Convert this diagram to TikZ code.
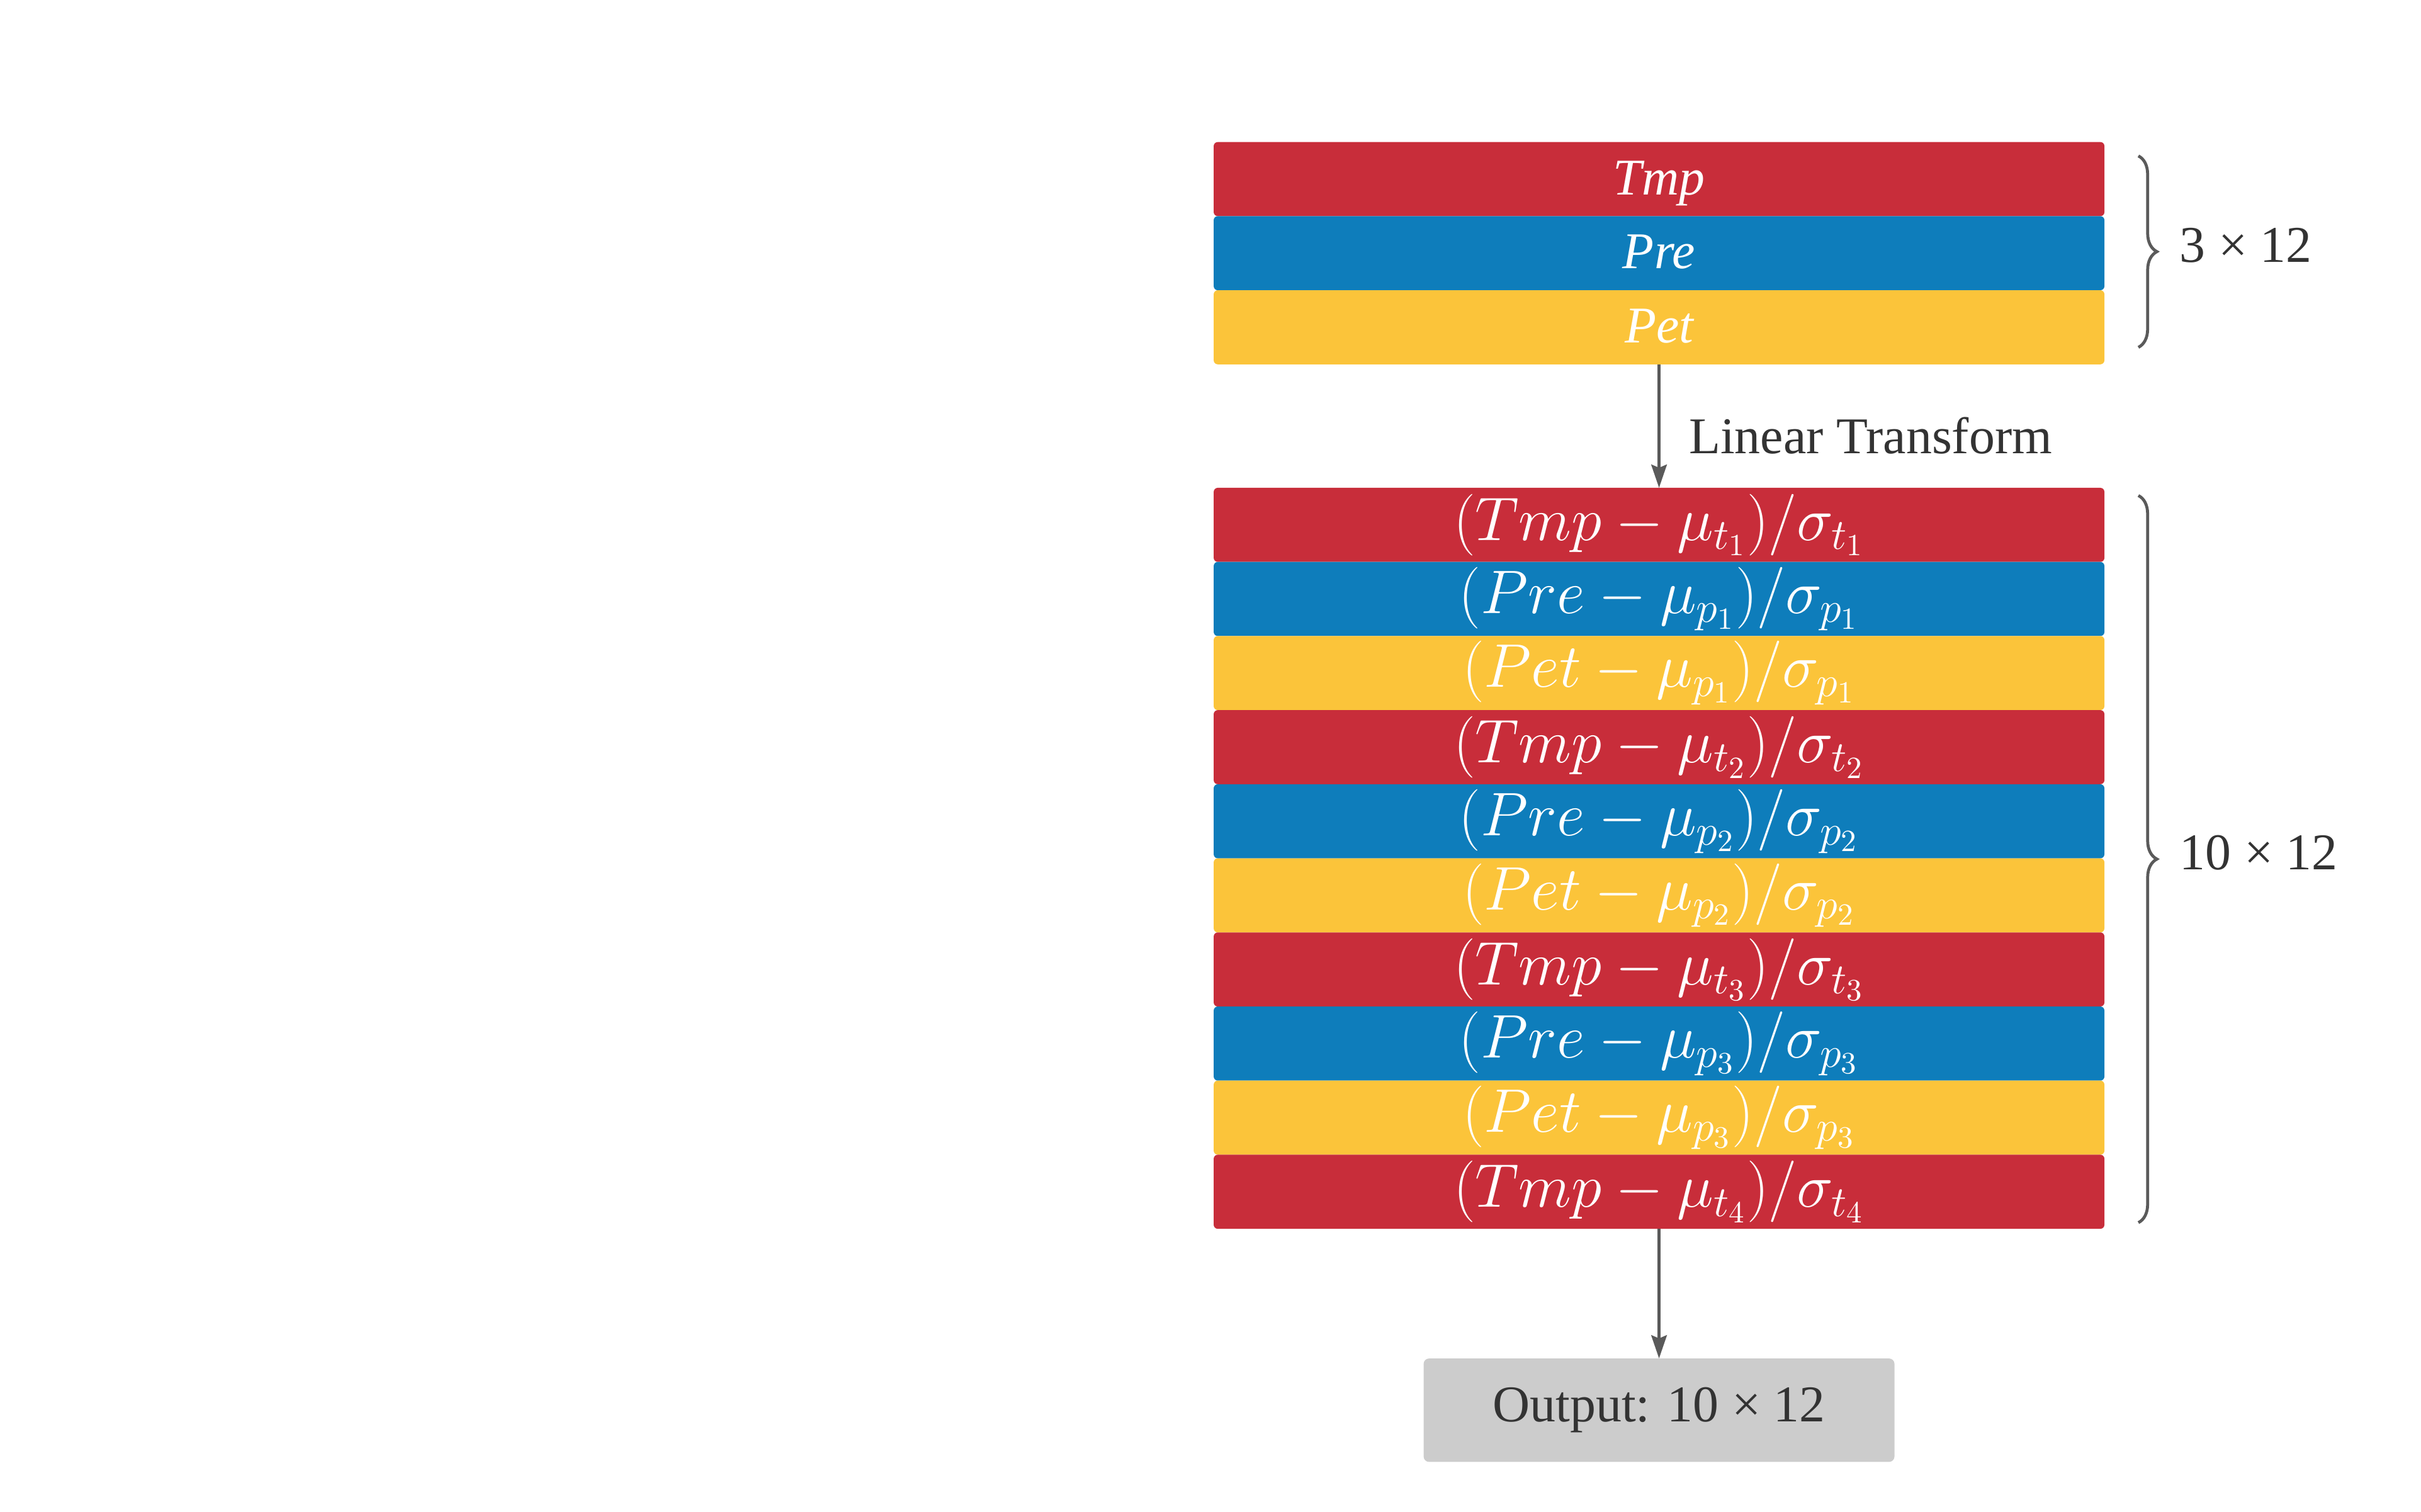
\RequirePackage{fix-cm}
\documentclass[tikz,border=0pt]{standalone}
\usepackage{fontspec}
\setmainfont{Liberation Serif}
\usepackage{tikz}
\usetikzlibrary{positioning,calc,arrows.meta,decorations.pathreplacing}
\definecolor{tmpred}{HTML}{C82D3A}
\definecolor{preblue}{HTML}{0E7DBB}
\definecolor{petyellow}{HTML}{FBC43A}
\definecolor{outgray}{HTML}{CCCCCC}
\definecolor{inkgray}{HTML}{333333}
\definecolor{linegray}{HTML}{5A5A5A}
\tikzset{
  band/.style={rectangle, rounded corners=1.5pt, minimum width=11.54cm, minimum height=0.96cm, inner sep=0pt, outer sep=0pt, text=white},
  tmpband/.style={band, fill=tmpred},
  preband/.style={band, fill=preblue},
  petband/.style={band, fill=petyellow},
  rawtxt/.style={font=\fontsize{19}{22}\selectfont\itshape, text height=12.5pt, text depth=1pt},
  normtxt/.style={font=\fontsize{22.7}{26}\selectfont},
  link/.style={-{Stealth[length=0.3cm, width=0.2cm, inset=0.04cm]}, draw=linegray, line width=1.2pt},
  brace/.style={decorate, decoration={brace, amplitude=0.24cm}, draw=linegray, line width=1.1pt},
  dim/.style={text=inkgray, font=\fontsize{19}{22}\selectfont},
  outbox/.style={rectangle, rounded corners=2pt, fill=outgray, text=inkgray, outer sep=0pt, minimum width=6.1cm, minimum height=1.34cm, font=\fontsize{19}{22}\selectfont}
}

\begin{document}
\begin{tikzpicture}[x=0.02cm, y=-0.02cm]
  \useasboundingbox (0,0) rectangle (1568,979);

  % raw inputs
  \node[tmpband, rawtxt, anchor=north] (tmp) at (1074.5,92) {Tmp};
  \node[preband, rawtxt, below=0pt of tmp] (pre) {Pre};
  \node[petband, rawtxt, below=0pt of pre] (pet) {Pet};

  % normalised rows
  \node[tmpband, normtxt, below=1.6cm of pet] (n1) {$(Tmp-\mu_{t_1})/\sigma_{t_1}$};
  \node[preband, normtxt, below=0pt of n1] (n2) {$(Pre-\mu_{p_1})/\sigma_{p_1}$};
  \node[petband, normtxt, below=0pt of n2] (n3) {$(Pet-\mu_{p_1})/\sigma_{p_1}$};
  \node[tmpband, normtxt, below=0pt of n3] (n4) {$(Tmp-\mu_{t_2})/\sigma_{t_2}$};
  \node[preband, normtxt, below=0pt of n4] (n5) {$(Pre-\mu_{p_2})/\sigma_{p_2}$};
  \node[petband, normtxt, below=0pt of n5] (n6) {$(Pet-\mu_{p_2})/\sigma_{p_2}$};
  \node[tmpband, normtxt, below=0pt of n6] (n7) {$(Tmp-\mu_{t_3})/\sigma_{t_3}$};
  \node[preband, normtxt, below=0pt of n7] (n8) {$(Pre-\mu_{p_3})/\sigma_{p_3}$};
  \node[petband, normtxt, below=0pt of n8] (n9) {$(Pet-\mu_{p_3})/\sigma_{p_3}$};
  \node[tmpband, normtxt, below=0pt of n9] (n10) {$(Tmp-\mu_{t_4})/\sigma_{t_4}$};

  \node[outbox, below=1.68cm of n10] (out) {Output: 10 × 12};

  \draw[link] (pet) -- (n1) node[dim, midway, right=0.25cm, yshift=-0.12cm] (lin) {Linear Transform};
  \draw[link] (n10) -- (out);

  % braces
  \coordinate (b1top) at ($(tmp.north east)+(22,9)$);
  \coordinate (b1bot) at ($(pet.south east)+(22,-11)$);
  \coordinate (b2top) at ($(n1.north east)+(22,5)$);
  \coordinate (b2bot) at ($(n10.south east)+(22,-4)$);
  \draw[brace] (b1top) -- (b1bot) node[dim, midway, right=0.4cm, yshift=0.08cm] (d1) {3 × 12};
  \draw[brace] (b2top) -- (b2bot) node[dim, midway, right=0.4cm, yshift=0.08cm] (d2) {10 × 12};
\end{tikzpicture}
\end{document}
